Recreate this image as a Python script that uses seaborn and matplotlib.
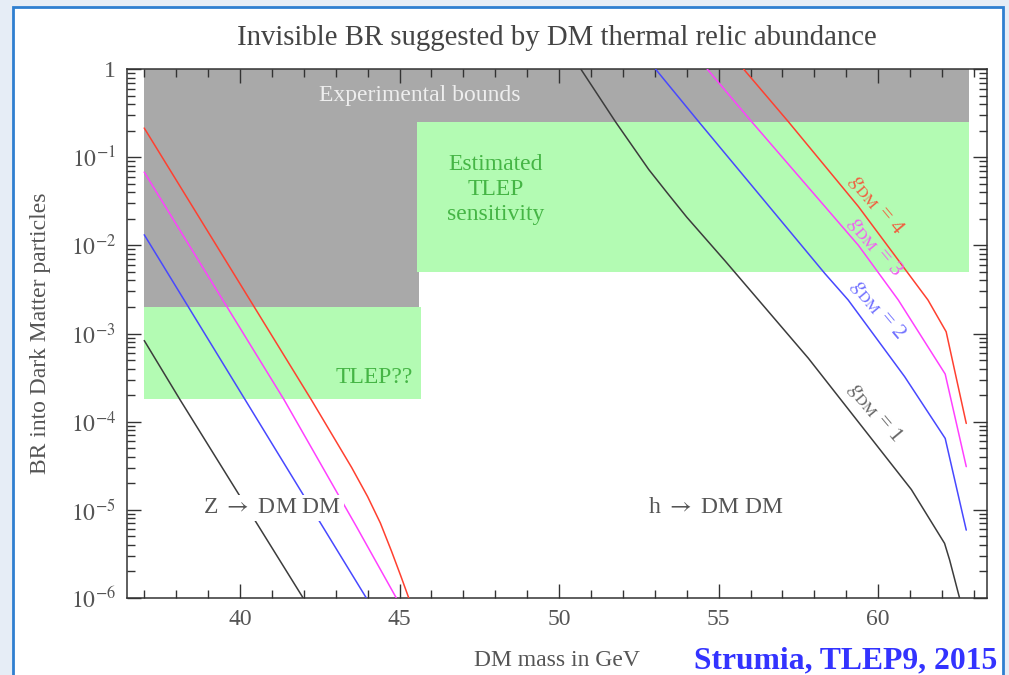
import numpy as np
import pandas as pd
import seaborn as sns
import matplotlib.pyplot as plt
from matplotlib.patches import Rectangle
from matplotlib.ticker import MultipleLocator, LogLocator, FuncFormatter, NullFormatter

# curves: DM mass (GeV) and log10(BR)
z1_mass = [37.0, 38.12, 41.98]
z1_logbr = [-3.08, -3.75, -6.0]
z2_mass = [37.0, 40.16, 43.96]
z2_logbr = [-1.88, -3.75, -6.0]
z3_mass = [37.0, 41.38, 43.65, 44.9]
z3_logbr = [-1.17, -3.75, -5.19, -6.0]
z4_mass = [37.0, 42.25, 43.5, 44.0, 44.4, 44.75, 45.05, 45.29]
z4_logbr = [-0.67, -3.76, -4.52, -4.85, -5.15, -5.47, -5.76, -6.0]

h1_mass = [50.68, 51.77, 52.81, 53.4, 54.0, 55.21, 57.81, 61.04, 62.08, 62.24, 62.55]
h1_logbr = [0.0, -0.60, -1.14, -1.41, -1.68, -2.18, -3.28, -4.77, -5.38, -5.57, -6.0]
h2_mass = [53.02, 54.38, 58.33, 59.06, 60.83, 62.1, 62.76]
h2_logbr = [0.0, -0.60, -2.32, -2.62, -3.49, -4.19, -5.23]
h3_mass = [54.64, 56.04, 59.38, 60.63, 62.1, 62.76]
h3_logbr = [0.0, -0.60, -2.0, -2.62, -3.46, -4.51]
h4_mass = [55.78, 57.19, 59.38, 61.56, 62.13, 62.76]
h4_logbr = [0.0, -0.60, -1.56, -2.62, -2.98, -4.02]

# shaded regions (mass range, BR range)
bound_band = [37.0, 62.85, 0.25, 1.0]
bound_left = [37.0, 45.62, 2e-3, 1.0]
tlep_box = [45.55, 62.85, 5e-3, 0.25]
tlep_q_box = [37.0, 45.67, 1.8e-4, 2e-3]

palette = {"1": "#3c3c3c", "2": "#4848ff", "3": "#ff40ff", "4": "#ff4030"}
label_colors = {"1": "#666666", "2": "#7070ff", "3": "#f060f0", "4": "#f06040"}

rows = []
for branch, g, m, lb in [("Z", "1", z1_mass, z1_logbr), ("Z", "2", z2_mass, z2_logbr),
                         ("Z", "3", z3_mass, z3_logbr), ("Z", "4", z4_mass, z4_logbr),
                         ("h", "1", h1_mass, h1_logbr), ("h", "2", h2_mass, h2_logbr),
                         ("h", "3", h3_mass, h3_logbr), ("h", "4", h4_mass, h4_logbr)]:
    for mm, ll in zip(m, lb):
        rows.append({"mass": mm, "br": 10.0 ** ll, "g": g, "branch": branch + g})
df = pd.DataFrame(rows)

sns.set_style("ticks")
plt.rcParams["font.family"] = ["Liberation Serif", "DejaVu Serif"]
plt.rcParams["mathtext.fontset"] = "stix"

fig = plt.figure(figsize=(10.09, 6.75), dpi=100)
fig.patch.set_facecolor("#e6edf6")
fig.patches.append(Rectangle((13 / 1009, -0.05), 990 / 1009, 1 - 7 / 675 + 0.05,
                             transform=fig.transFigure, facecolor="white",
                             edgecolor="#2f7fd0", linewidth=2, zorder=-10))
ax = fig.add_axes([127 / 1009, 1 - 598 / 675, 860 / 1009, 529 / 675])
ax.set_facecolor("none")
ax.set_yscale("log")

gray = "#a9a9a9"
green = "#b3fbb3"
for box, col in [(bound_band, gray), (bound_left, gray), (tlep_box, green), (tlep_q_box, green)]:
    ax.fill_between([box[0], box[1]], box[2], box[3], color=col, lw=0, zorder=0)

sns.lineplot(data=df, x="mass", y="br", hue="g", units="branch", estimator=None,
             sort=False, palette=palette, lw=1.1, legend=False, ax=ax, zorder=3)

ax.set_xlim(36.46, 63.41)
ax.set_ylim(1e-6, 1)

ax.xaxis.set_major_locator(MultipleLocator(5))
ax.xaxis.set_minor_locator(MultipleLocator(1))
ax.yaxis.set_major_locator(LogLocator(base=10, numticks=10))
ax.yaxis.set_minor_locator(LogLocator(base=10, subs=np.arange(2, 10), numticks=20))
ax.yaxis.set_minor_formatter(NullFormatter())


def ylab(v, pos):
    e = int(round(np.log10(v)))
    return "1" if e == 0 else r"$10^{%d}$" % e


ax.yaxis.set_major_formatter(FuncFormatter(ylab))
ax.tick_params(which="both", direction="in", top=True, right=True, color="#333333",
               labelsize=17, labelcolor="#555555", width=1)
ax.tick_params(which="major", length=10, pad=8)
ax.tick_params(which="minor", length=6)
for s in ax.spines.values():
    s.set_color("#333333")
    s.set_linewidth(1.1)

ax.set_xlabel("DM mass in GeV", fontsize=17, color="#555555", labelpad=14)
ax.set_ylabel("BR into Dark Matter particles", fontsize=17, color="#555555", labelpad=14)
fig.text(557 / 1009, 1 - 38 / 675, "Invisible BR suggested by DM thermal relic abundance",
         ha="center", va="center", fontsize=20.7, color="#444444")

ax.text(45.64, 0.5, "Experimental bounds", ha="center", va="center", fontsize=17, color="#eeeeee")
ax.text(48.02, 0.0425, "Estimated\nTLEP\nsensitivity", ha="center", va="center",
        fontsize=17, color="#45b545", linespacing=1.25)
ax.text(44.2, 3.2e-4, "TLEP??", ha="center", va="center", fontsize=17, color="#45b545")
wb = dict(facecolor="white", edgecolor="none", pad=2)
ax.text(41.02, 1.05e-5, r"Z $\rightarrow$ DM DM", ha="center", va="center", fontsize=17,
        color="#555555", bbox=wb, zorder=4)
ax.text(54.91, 1.05e-5, r"h $\rightarrow$ DM DM", ha="center", va="center", fontsize=17,
        color="#555555", bbox=wb, zorder=4)

for g, xm, yb in [("4", 59.95, 0.0287), ("3", 59.9, 9.7e-3), ("2", 60.0, 1.86e-3), ("1", 59.9, 1.26e-4)]:
    ax.text(xm, yb, r"$g_{\rm DM}$ = " + g, ha="center", va="center", rotation=-50,
            rotation_mode="anchor", fontsize=16, color=label_colors[g], zorder=4)

fig.text(997 / 1009, 1 - 668 / 675, "Strumia, TLEP9, 2015", ha="right", va="baseline",
         fontsize=22.8, fontweight="bold", color="#3333ff")

fig.savefig("out.png", dpi=100)
